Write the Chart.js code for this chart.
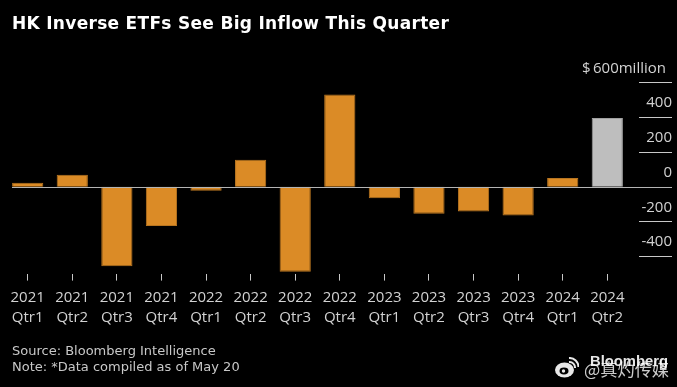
<!DOCTYPE html>
<html>
<head>
<meta charset="utf-8">
<script src="https://cdn.jsdelivr.net/npm/chart.js@4"></script>
<style>
    html, body { margin: 0; padding: 0; background: #000; overflow: hidden; }
    #wrap { position: relative; width: 677px; height: 387px; background: #000; }
    canvas { position: absolute; left: 0; top: 0; }
    .txt { position: absolute; white-space: nowrap; font-family: "DejaVu Sans", sans-serif; }
    #title { left: 12px; top: 13px; font-size: 17px; font-weight: bold; color: #fff; letter-spacing: 0.3px; }
    #source { left: 12px; top: 343px; font-size: 13px; line-height: 16px; color: #c8c8c8; }
    #unit { right: 11px; top: 57px; font-size: 15px; line-height: 20px; color: #d2d2d2; font-family: "Open Sans", sans-serif; }
    #brand { left: 590px; top: 353px; font-size: 14.8px; font-weight: bold; color: #e6e6e6; font-family: "Liberation Sans", sans-serif; }
    #mark { left: 584px; top: 356px; font-size: 17.2px; color: rgba(255,255,255,0.8); font-family: "Noto Sans CJK SC", sans-serif; }
    #weibo { position: absolute; left: 555px; top: 357px; }
</style>
</head>
<body>
<div id="wrap">
    <canvas id="etfChart" width="677" height="387"></canvas>
    <div class="txt" id="title">HK Inverse ETFs See Big Inflow This Quarter</div>
    <div class="txt" id="unit">$&#8201;600million</div>
    <div class="txt" id="source">Source: Bloomberg Intelligence<br>Note: *Data compiled as of May 20</div>
    <div class="txt" id="brand">Bloomberg</div>
    <div class="txt" id="mark">@真灼传媒</div>
    <svg id="weibo" width="24" height="21" viewBox="0 0 24 21">
        <ellipse cx="9.5" cy="13" rx="9.5" ry="7.5" fill="#e8e8e8"/>
        <ellipse cx="9" cy="14" rx="4.5" ry="3.4" fill="#000"/>
        <circle cx="8.5" cy="14" r="1.7" fill="#e8e8e8"/>
        <path d="M14 5 A5.5 5.5 0 0 1 20 11 M14 1 A9 9 0 0 1 23.5 10" fill="none" stroke="#e8e8e8" stroke-width="2"/>
    </svg>
</div>
<script>
// Values, $ million per quarter
const years = ['2021', '2021', '2021', '2021', '2022', '2022', '2022', '2022', '2023', '2023', '2023', '2023', '2024', '2024'];
const quarters = ['Qtr1', 'Qtr2', 'Qtr3', 'Qtr4', 'Qtr1', 'Qtr2', 'Qtr3', 'Qtr4', 'Qtr1', 'Qtr2', 'Qtr3', 'Qtr4', 'Qtr1', 'Qtr2'];
const inflows = [22, 68, -458, -226, -24, 155, -490, 530, -66, -156, -143, -166, 50, 395];
const yTicks = [600, 400, 200, 0, -200, -400];

const orange = '#DB8B26';
const grey = '#BEBEBE';
const labelColor = '#d2d2d2';

// Short rules under the y labels and the zero line across the bars
const axisLines = {
    id: 'axisLines',
    afterDatasetsDraw(chart) {
        const ctx = chart.ctx;
        const y = chart.scales.y;
        ctx.save();
        ctx.lineWidth = 1;
        yTicks.forEach(v => {
            const py = Math.round(y.getPixelForValue(v)) + 0.5;
            ctx.strokeStyle = v === 0 ? '#b4b4b4' : '#c8c8c8';
            ctx.beginPath();
            ctx.moveTo(v === 0 ? 12 : 639, py);
            ctx.lineTo(672, py);
            ctx.stroke();
        });
        ctx.restore();
    }
};

new Chart(document.getElementById('etfChart'), {
    type: 'bar',
    data: {
        labels: years.map((yr, i) => [yr, quarters[i]]),
        datasets: [{
            data: inflows,
            backgroundColor: inflows.map((v, i) => i === inflows.length - 1 ? grey : orange),
            borderColor: inflows.map((v, i) => i === inflows.length - 1 ? '#a0a0a0' : '#b87520'),
            borderWidth: 1,
            barPercentage: 0.7,
            categoryPercentage: 1
        }]
    },
    options: {
        responsive: false,
        animation: false,
        layout: { padding: { left: 5.4, right: 5, top: 82.4, bottom: 0 } },
        plugins: { legend: { display: false }, title: { display: false }, tooltip: { enabled: false } },
        scales: {
            x: {
                grid: { drawOnChartArea: false, offset: false, color: '#c8c8c8', tickLength: 7 },
                border: { display: false },
                ticks: {
                    color: labelColor,
                    padding: 7,
                    autoSkip: false,
                    maxRotation: 0,
                    font: { family: '"Open Sans", sans-serif', size: 15, lineHeight: 1.34 }
                },
                afterFit(scale) { scale.height = 113.4; }
            },
            y: {
                position: 'right',
                min: -500,
                max: 600,
                grid: { display: false },
                border: { display: false },
                afterBuildTicks(scale) { scale.ticks = yTicks.map(v => ({ value: v })); },
                afterFit(scale) { scale.width = 42.4; },
                ticks: {
                    color: labelColor,
                    crossAlign: 'far',
                    labelOffset: -14,
                    font: { family: '"Open Sans", sans-serif', size: 15 },
                    // the 600 line carries the unit label, placed in #unit
                    callback(v) { return v === 600 ? '' : String(v); }
                }
            }
        }
    },
    plugins: [axisLines]
});
</script>
</body>
</html>
